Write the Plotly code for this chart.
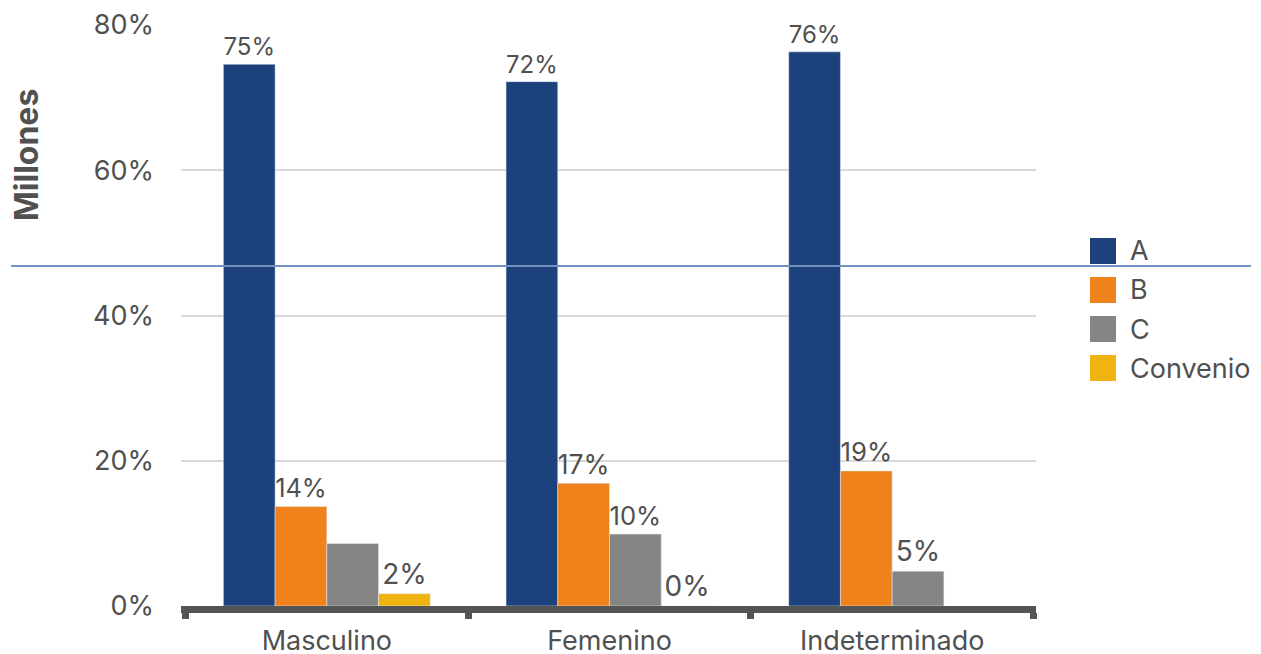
import plotly.graph_objects as go

categories = ["Masculino", "Femenino", "Indeterminado"]
series_names = ["A", "B", "C", "Convenio"]
vals_A = [74.6, 72.2, 76.3]
vals_B = [13.7, 16.9, 18.6]
vals_C = [8.6, 9.9, 4.8]
vals_Conv = [1.7, 0.0, None]
# which bars carry a value label (the reference shows none on Masculino / C)
show_A = [True, True, True]
show_B = [True, True, True]
show_C = [False, True, True]
show_Conv = [True, True, False]
y_ticks = [0, 20, 40, 60, 80]
y_ticklabels = [f"{v}%" for v in y_ticks]
y_title = "Millones"

colors = ["#1c417d", "#ef821b", "#858585", "#efb410"]
series_vals = [vals_A, vals_B, vals_C, vals_Conv]
series_show = [show_A, show_B, show_C, show_Conv]

# page body has an 8px default margin: figure origin is at (8, 8) on screen
OFF = 8
W, H = 1261 - OFF, 654 - OFF
L, T = 181 - OFF, 25 - OFF
R = W - (1036 - OFF)
B = H - (606 - OFF)
PW, PH = W - L - R, H - T - B

def px_x(px):
    return (px - OFF - L) / PW

def px_y(py):
    return (H - B - (py - OFF)) / PH

FONT = "Inter, Liberation Sans, Arial, sans-serif"
TXT = "#505050"

fig = go.Figure()
for name, vals, col, show in zip(series_names, series_vals, colors, series_show):
    fig.add_trace(go.Bar(
        x=categories, y=vals, name=name, marker_color=col,
        texttemplate=["%{y:.0f}%" if s else "" for s in show],
        textposition="outside",
        textfont=dict(size=28, color=TXT, family=FONT),
        cliponaxis=False, showlegend=False,
    ))

shapes = [dict(type="line", xref="paper", yref="paper",
               x0=px_x(11), x1=px_x(1251), y0=px_y(266), y1=px_y(266),
               line=dict(color="#7391bf", width=2), layer="above")]
annotations = [dict(text="<b>" + y_title + "</b>", xref="paper", yref="paper",
                    x=px_x(26), y=px_y(155), textangle=-90, showarrow=False,
                    font=dict(size=32, color=TXT, family=FONT),
                    xanchor="center", yanchor="middle")]

leg_y = [251, 290, 329, 368]
for name, col, cy in zip(series_names, colors, leg_y):
    shapes.append(dict(type="rect", xref="paper", yref="paper",
                       x0=px_x(1090), x1=px_x(1116), y0=px_y(cy - 13), y1=px_y(cy + 13),
                       fillcolor=col, line=dict(width=0)))
    annotations.append(dict(text=name, xref="paper", yref="paper",
                            x=px_x(1128), y=px_y(cy), showarrow=False,
                            xanchor="left", yanchor="middle",
                            font=dict(size=27, color=TXT, family=FONT)))

# category ticks sit slightly inside the ends of the axis line
cat_px = (1036 - 181 - 7) / len(categories)
pad_cat = 3.5 / cat_px
shift = 1.0 / cat_px

fig.update_layout(
    width=W, height=H,
    margin=dict(l=L, r=R, t=T, b=B, pad=0, autoexpand=False),
    paper_bgcolor="white", plot_bgcolor="white",
    barmode="group", bargap=0.268, bargroupgap=0,
    font=dict(family=FONT, color=TXT),
    shapes=shapes, annotations=annotations,
    showlegend=False,
    xaxis=dict(showline=True, linecolor="#555555", linewidth=7,
               range=[-0.5 - pad_cat - shift, len(categories) - 0.5 + pad_cat - shift],
               ticks="outside", tickson="boundaries", ticklen=6, tickwidth=7,
               tickcolor="#555555", showgrid=False, automargin=False,
               ticklabelstandoff=5,
               tickfont=dict(size=27, color=TXT, family=FONT)),
    yaxis=dict(range=[0, 80], tickmode="array", tickvals=y_ticks, ticktext=y_ticklabels,
               showgrid=True, gridcolor="#d9d9d9", gridwidth=2,
               zeroline=False, showline=False, ticks="", automargin=False,
               ticklabelstandoff=26,
               tickfont=dict(size=27, color=TXT, family=FONT)),
)

fig.write_html("out.html")
